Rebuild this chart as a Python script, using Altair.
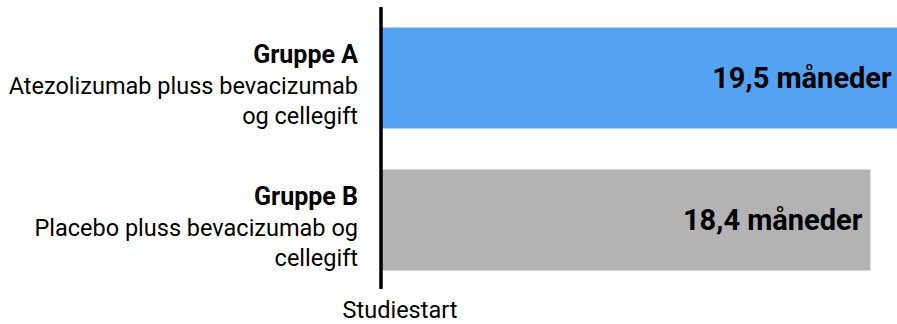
import altair as alt
import pandas as pd

groups = ["Gruppe A", "Gruppe B"]
descriptions = [
    ["Atezolizumab pluss bevacizumab", "og cellegift"],
    ["Placebo pluss bevacizumab og", "cellegift"],
]
months = [19.5, 18.4]
value_labels = ["19,5 måneder", "18,4 måneder"]
colors = ["#54a2f2", "#b3b3b3"]
axis_label = "Studiestart"

df = pd.DataFrame({
    "group": groups,
    "desc": descriptions,
    "months": months,
    "label": value_labels,
})

FONT = "Roboto"

y_enc = alt.Y("group:N", sort=groups, axis=None,
              scale=alt.Scale(paddingInner=0.289, paddingOuter=0.137))
x_scale = alt.Scale(domain=[0, 19.4], nice=False, zero=True)

bars = alt.Chart(df).mark_bar(clip=False).encode(
    x=alt.X("months:Q", scale=x_scale, axis=None),
    y=y_enc,
    color=alt.Color("group:N", scale=alt.Scale(domain=groups, range=colors), legend=None),
)

values = alt.Chart(df).mark_text(
    font=FONT, fontSize=29, fontWeight="bold", align="right",
    baseline="alphabetic", dx=-8, dy=10, color="black",
).encode(
    x=alt.X("months:Q", scale=x_scale),
    y=y_enc,
    text="label:N",
)

titles = alt.Chart(df).mark_text(
    font=FONT, fontSize=25, fontWeight="bold", align="right",
    baseline="alphabetic", dy=-15, color="black",
).encode(
    x=alt.value(-23),
    y=y_enc,
    text="group:N",
)

descs = alt.Chart(df).mark_text(
    font=FONT, fontSize=23.5, align="right", lineHeight=30,
    baseline="alphabetic", dy=16, color="black",
).encode(
    x=alt.value(-23),
    y=y_enc,
    text="desc",
)

axis_rule = alt.Chart(df).mark_rule(color="black", strokeWidth=3).encode(
    x=alt.value(0),
    y=alt.value(-1),
    y2=alt.value(281),
)

axis_text = alt.Chart(pd.DataFrame({"t": [axis_label]})).mark_text(
    font=FONT, fontSize=23.5, align="center", baseline="alphabetic",
    dx=19, color="black",
).encode(
    x=alt.value(0),
    y=alt.value(310),
    text="t:N",
)

chart = alt.layer(bars, values, titles, descs, axis_rule, axis_text).properties(
    width=516,
    height=282,
    autosize=alt.AutoSizeParams(type="none"),
    padding={"left": 381, "top": 8, "right": 0, "bottom": 34},
    background="white",
).configure_view(stroke=None)

chart.save("out.html", embed_options={"renderer": "svg", "actions": False})
